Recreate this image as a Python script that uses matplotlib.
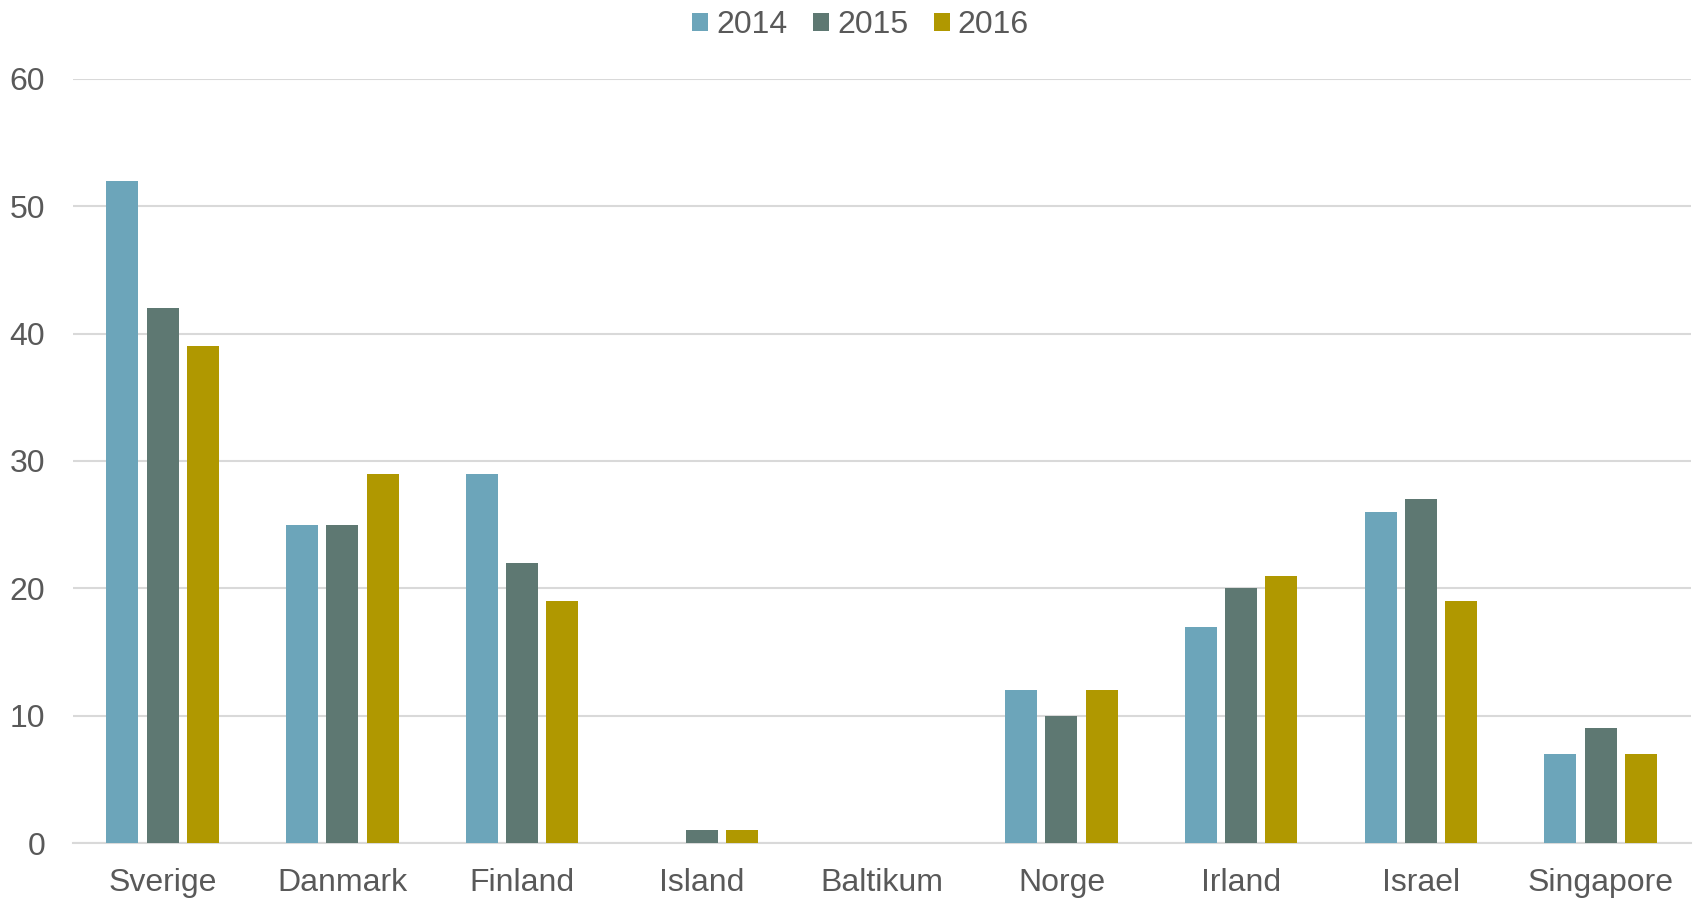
import numpy as np
import matplotlib
matplotlib.use("Agg")
import matplotlib.pyplot as plt
from matplotlib.patches import Patch

matplotlib.rcParams["font.family"] = ["Liberation Sans", "DejaVu Sans"]

categories = ["Sverige", "Danmark", "Finland", "Island", "Baltikum",
              "Norge", "Irland", "Israel", "Singapore"]
years = ["2014", "2015", "2016"]
v2014 = [52, 25, 29, 0, 0, 12, 17, 26, 7]
v2015 = [42, 25, 22, 1, 0, 10, 20, 27, 9]
v2016 = [39, 29, 19, 1, 0, 12, 21, 19, 7]
series = [v2014, v2015, v2016]
colors = ["#6CA5BA", "#5E7872", "#B09800"]

text_col = "#595959"
grid_col = "#D9D9D9"

fig = plt.figure(figsize=(16.94, 9.0), dpi=100)
ax = fig.add_axes([0.043, 0.0633, 0.955, 0.849])

x = np.arange(len(categories))
step = 0.224
width = 0.178
for i, (vals, col) in enumerate(zip(series, colors)):
    ax.bar(x + (i - 1) * step, vals, width, color=col, zorder=3)

ax.set_xlim(-0.5, len(categories) - 0.5)
ax.set_ylim(0, 60)
ax.set_yticks(range(0, 61, 10))
ax.yaxis.grid(True, color=grid_col, linewidth=1.5, zorder=0)
for s in ["top", "right", "left"]:
    ax.spines[s].set_visible(False)
ax.spines["bottom"].set_color(grid_col)
ax.spines["bottom"].set_linewidth(1.5)
ax.tick_params(axis="y", length=0, pad=20, labelsize=23, labelcolor=text_col)
ax.tick_params(axis="x", length=0, pad=18, labelsize=23, labelcolor=text_col)
ax.set_xticks(x)
ax.set_xticklabels(categories)

handles = [Patch(facecolor=c, label=y) for c, y in zip(colors, years)]
leg = fig.legend(handles=handles, loc="center", bbox_to_anchor=(0.508, 0.972),
                 ncol=3, frameon=False, fontsize=23, handlelength=0.5,
                 handleheight=0.5, handletextpad=0.25, columnspacing=0.8)
for t in leg.get_texts():
    t.set_color(text_col)

fig.savefig("out.png", dpi=100)
